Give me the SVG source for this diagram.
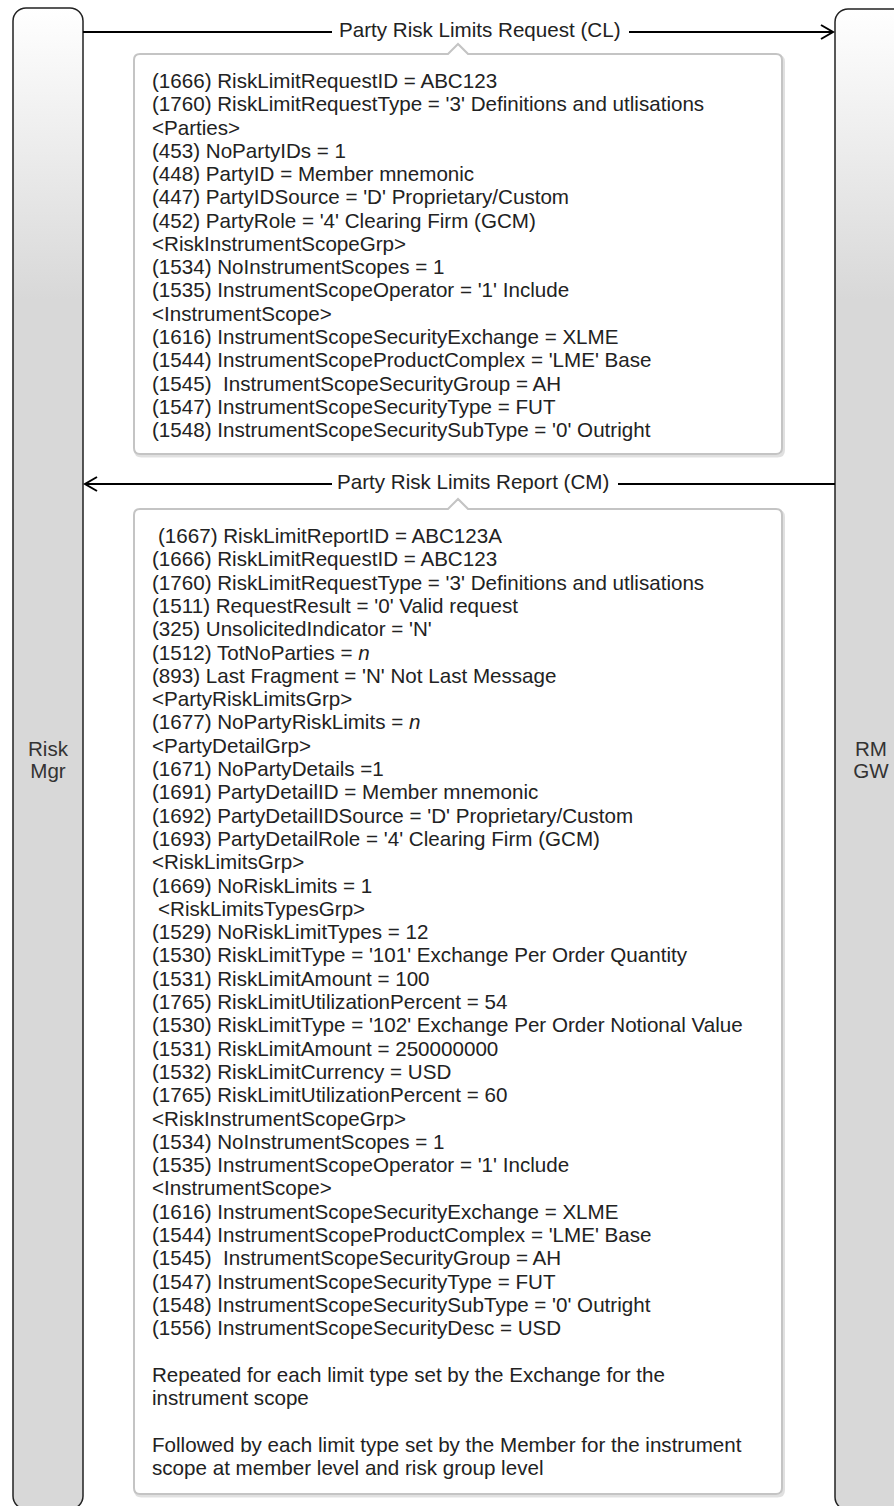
<svg xmlns="http://www.w3.org/2000/svg" width="894" height="1506" viewBox="0 0 894 1506">
<style>
text{font-family:"Liberation Sans",Arial,sans-serif;font-size:20.6px;fill:#222}
.ll{fill:url(#lg);stroke:#222;stroke-width:1.5}
.lbl{fill:#333;text-anchor:middle}
.box{fill:#fff;stroke:#c4c4c4;stroke-width:2}
.shadow{fill:none;stroke:#000;stroke-opacity:0.12;stroke-width:3}
.conn{stroke:#000;stroke-width:2;fill:none}
</style>
<defs>
<linearGradient id="lg" gradientUnits="userSpaceOnUse" x1="0" y1="8" x2="0" y2="300">
<stop offset="0" stop-color="#ffffff"/>
<stop offset="1" stop-color="#d8d8d8"/>
</linearGradient>
<marker id="arr" markerUnits="userSpaceOnUse" markerWidth="16" markerHeight="18" refX="13" refY="8" orient="auto">
<path d="M1,1 L13,8 L1,15" fill="none" stroke="#000" stroke-width="2"/>
</marker>
</defs>

<g id="risk-mgr">
<rect class="ll" x="13" y="8" width="70" height="1501" rx="13"/>
<text class="lbl" x="48" y="756">Risk</text>
<text class="lbl" x="48" y="778">Mgr</text>
</g>

<g id="rm-gw">
<rect class="ll" x="835" y="9" width="72" height="1501" rx="13"/>
<text class="lbl" x="871" y="756">RM</text>
<text class="lbl" x="871" y="778">GW</text>
</g>

<g id="connectors">
<line class="conn" x1="83" y1="32" x2="833" y2="32" marker-end="url(#arr)"/>
<rect x="332" y="20" width="297" height="24" fill="#fff"/>
<text x="339" y="37">Party Risk Limits Request (CL)</text>
<line class="conn" x1="835" y1="484" x2="85" y2="484" marker-end="url(#arr)"/>
<rect x="332" y="472" width="286" height="24" fill="#fff"/>
<text x="337" y="489">Party Risk Limits Report (CM)</text>
</g>

<g id="request-note">
<path class="shadow" transform="translate(1.5,2)" d="M140,54 H448 L458,44 L468,54 H776 Q782,54 782,60 V448 Q782,454 776,454 H140 Q134,454 134,448 V60 Q134,54 140,54 Z"/>
<path class="box" d="M140,54 H448 L458,44 L468,54 H776 Q782,54 782,60 V448 Q782,454 776,454 H140 Q134,454 134,448 V60 Q134,54 140,54 Z"/>
<text x="152" y="88">(1666) RiskLimitRequestID = ABC123</text>
<text x="152" y="111.3">(1760) RiskLimitRequestType = '3' Definitions and utlisations</text>
<text x="152" y="134.5">&lt;Parties&gt;</text>
<text x="152" y="157.8">(453) NoPartyIDs = 1</text>
<text x="152" y="181.1">(448) PartyID = Member mnemonic</text>
<text x="152" y="204.4">(447) PartyIDSource = 'D' Proprietary/Custom</text>
<text x="152" y="227.6">(452) PartyRole = '4' Clearing Firm (GCM)</text>
<text x="152" y="250.9">&lt;RiskInstrumentScopeGrp&gt;</text>
<text x="152" y="274.2">(1534) NoInstrumentScopes = 1</text>
<text x="152" y="297.4">(1535) InstrumentScopeOperator = '1' Include</text>
<text x="152" y="320.7">&lt;InstrumentScope&gt;</text>
<text x="152" y="344">(1616) InstrumentScopeSecurityExchange = XLME</text>
<text x="152" y="367.2">(1544) InstrumentScopeProductComplex = 'LME' Base</text>
<text x="152" y="390.5" xml:space="preserve">(1545)  InstrumentScopeSecurityGroup = AH</text>
<text x="152" y="413.8">(1547) InstrumentScopeSecurityType = FUT</text>
<text x="152" y="437">(1548) InstrumentScopeSecuritySubType = '0' Outright</text>
</g>

<g id="report-note">
<path class="shadow" transform="translate(1.5,2)" d="M140,509 H448 L458,499 L468,509 H776 Q782,509 782,515 V1488 Q782,1494 776,1494 H140 Q134,1494 134,1488 V515 Q134,509 140,509 Z"/>
<path class="box" d="M140,509 H448 L458,499 L468,509 H776 Q782,509 782,515 V1488 Q782,1494 776,1494 H140 Q134,1494 134,1488 V515 Q134,509 140,509 Z"/>
<text x="158" y="543">(1667) RiskLimitReportID = ABC123A</text>
<text x="152" y="566.3">(1666) RiskLimitRequestID = ABC123</text>
<text x="152" y="589.6">(1760) RiskLimitRequestType = '3' Definitions and utlisations</text>
<text x="152" y="612.9">(1511) RequestResult = '0' Valid request</text>
<text x="152" y="636.2">(325) UnsolicitedIndicator = 'N'</text>
<text x="152" y="659.5">(1512) TotNoParties = <tspan font-style="italic">n</tspan></text>
<text x="152" y="682.8">(893) Last Fragment = 'N' Not Last Message</text>
<text x="152" y="706.1">&lt;PartyRiskLimitsGrp&gt;</text>
<text x="152" y="729.4">(1677) NoPartyRiskLimits = <tspan font-style="italic">n</tspan></text>
<text x="152" y="752.7">&lt;PartyDetailGrp&gt;</text>
<text x="152" y="776">(1671) NoPartyDetails =1</text>
<text x="152" y="799.3">(1691) PartyDetailID = Member mnemonic</text>
<text x="152" y="822.6">(1692) PartyDetailIDSource = 'D' Proprietary/Custom</text>
<text x="152" y="845.9">(1693) PartyDetailRole = '4' Clearing Firm (GCM)</text>
<text x="152" y="869.2">&lt;RiskLimitsGrp&gt;</text>
<text x="152" y="892.5">(1669) NoRiskLimits = 1</text>
<text x="158" y="915.8">&lt;RiskLimitsTypesGrp&gt;</text>
<text x="152" y="939.1">(1529) NoRiskLimitTypes = 12</text>
<text x="152" y="962.4">(1530) RiskLimitType = '101' Exchange Per Order Quantity</text>
<text x="152" y="985.7">(1531) RiskLimitAmount = 100</text>
<text x="152" y="1009">(1765) RiskLimitUtilizationPercent = 54</text>
<text x="152" y="1032.3">(1530) RiskLimitType = '102' Exchange Per Order Notional Value</text>
<text x="152" y="1055.6">(1531) RiskLimitAmount = 250000000</text>
<text x="152" y="1078.9">(1532) RiskLimitCurrency = USD</text>
<text x="152" y="1102.2">(1765) RiskLimitUtilizationPercent = 60</text>
<text x="152" y="1125.5">&lt;RiskInstrumentScopeGrp&gt;</text>
<text x="152" y="1148.8">(1534) NoInstrumentScopes = 1</text>
<text x="152" y="1172.1">(1535) InstrumentScopeOperator = '1' Include</text>
<text x="152" y="1195.4">&lt;InstrumentScope&gt;</text>
<text x="152" y="1218.7">(1616) InstrumentScopeSecurityExchange = XLME</text>
<text x="152" y="1242">(1544) InstrumentScopeProductComplex = 'LME' Base</text>
<text x="152" y="1265.3" xml:space="preserve">(1545)  InstrumentScopeSecurityGroup = AH</text>
<text x="152" y="1288.6">(1547) InstrumentScopeSecurityType = FUT</text>
<text x="152" y="1311.9">(1548) InstrumentScopeSecuritySubType = '0' Outright</text>
<text x="152" y="1335.2">(1556) InstrumentScopeSecurityDesc = USD</text>
<text x="152" y="1381.8">Repeated for each limit type set by the Exchange for the</text>
<text x="152" y="1405.1">instrument scope</text>
<text x="152" y="1451.7">Followed by each limit type set by the Member for the instrument</text>
<text x="152" y="1475">scope at member level and risk group level</text>
</g>
</svg>
